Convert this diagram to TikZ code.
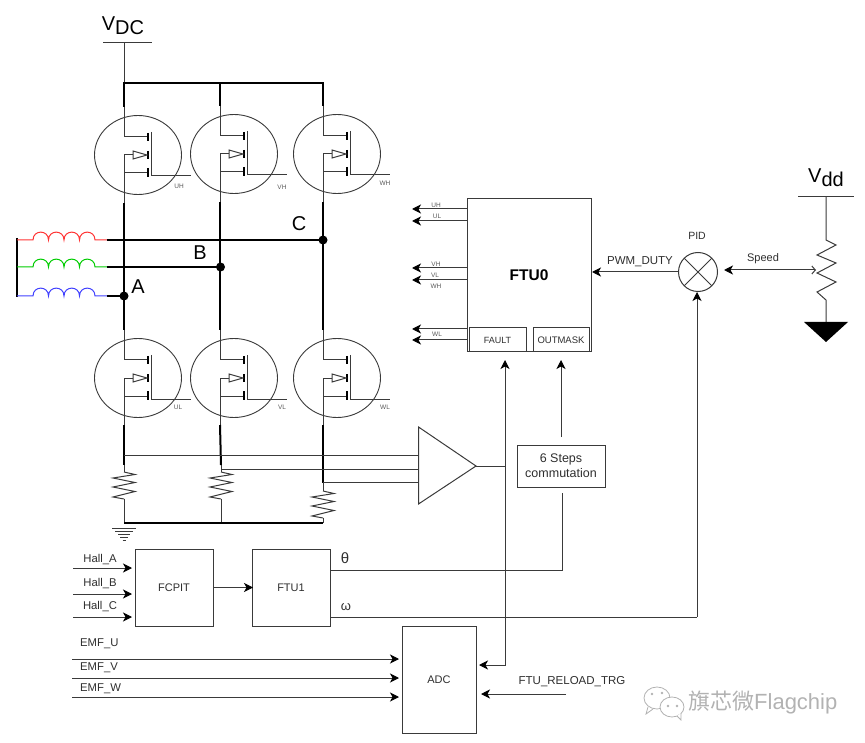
\documentclass[tikz,border=0pt]{standalone}
\usepackage{fontspec}
\setmainfont{Liberation Sans}
\newfontfamily\cjkwm{Noto Sans CJK SC}
\usetikzlibrary{arrows.meta,calc}
\definecolor{ink}{HTML}{2E2E2E}
\definecolor{wire}{HTML}{3A3A3A}
\tikzset{
  thin wire/.style={draw=wire,line width=1pt},
  power/.style={draw=black,line width=2pt},
  arr/.style={draw=wire,line width=1pt,-{Stealth[length=9pt,width=9pt,inset=2.5pt,color=black]}},
  box/.style={draw=wire,line width=1pt,rectangle,inner sep=0pt,outer sep=0pt,text=ink,font=\fontsize{11}{13}\selectfont,align=center},
  lbl/.style={text=ink,font=\fontsize{11.3}{13}\selectfont,inner sep=0pt},
  tiny/.style={text=ink!80,font=\fontsize{6.5}{8}\selectfont,inner sep=0pt},
  big/.style={text=black,font=\fontsize{20}{22}\selectfont,inner sep=0pt},
  dot/.style={circle,fill=black,draw=none,minimum size=9pt,inner sep=0pt,outer sep=0pt},
  coilw/.style={line width=1pt}
}
\newcommand{\mosfet}[6]{%
  \begin{scope}[shift={(#2,#3)}]
    \coordinate (#1d) at (0,-48);
    \coordinate (#1s) at (0,48);
    \draw[thin wire,line width=0.9pt] (14,0) ellipse (43.5 and 39.5);
    \draw[thin wire] (0,-48) -- (0,-18) -- (23,-18);
    \draw[draw=black,line width=1.5pt] (24,-22) -- (24,-14);
    \draw[draw=black,line width=1.5pt] (24,-4) -- (24,4);
    \draw[draw=black,line width=1.5pt] (24,13) -- (24,22);
    \draw[thin wire] (27,-23) -- (27,21) -- (67,21);
    \draw[thin wire] (0,48) -- (0,0) -- (9,0);
    \draw[thin wire] (0,18) -- (23,18);
    \draw[thin wire] (9,-4) -- (9,4) -- (23,0) -- cycle;
  \end{scope}
  \node[tiny] (#1l) at (#5,#6) {#4};
}
\newcommand{\shunt}[2]{%
  \draw[thin wire] (#1,#2) -- ++(11,2.5) -- ++(-22,3.5) -- ++(22,4.5) -- ++(-22,4.5) -- ++(22,4.5) -- ++(-22,5.5) -- ++(11,2);
}
\newcommand{\winding}[2]{%
  \draw[#2,coilw] (17,#1) -- (33,#1)
    .. controls (33,#1-10.5) and (48.5,#1-10.5) .. (48.5,#1)
    .. controls (48.5,#1-10.5) and (64,#1-10.5) .. (64,#1)
    .. controls (64,#1-10.5) and (79.5,#1-10.5) .. (79.5,#1)
    .. controls (79.5,#1-10.5) and (95,#1-10.5) .. (95,#1) -- (107,#1);
}
\begin{document}
\begin{tikzpicture}[x=1pt,y=-1pt]
\useasboundingbox (0,0) rectangle (865,743);
% supply
\coordinate (dcl) at (103,43); \coordinate (dcr) at (152,43); \coordinate (dcm) at (124,43);
\draw[thin wire] (dcl) -- (dcr);
\node[big] (vdc) at (123,26) {V\raisebox{-4pt}{DC}};
% bridge
\mosfet{uh}{124}{155}{UH}{179}{186}
\mosfet{vh}{220}{154}{VH}{282}{187}
\mosfet{wh}{323}{154}{WH}{385}{183}
\mosfet{ul}{124}{378}{UL}{178}{407}
\mosfet{vl}{220}{378}{VL}{282}{407}
\mosfet{wl}{323}{378}{WL}{385}{407}
\coordinate (bus1) at (124,83); \coordinate (bus2) at (220,83); \coordinate (bus3) at (323,83);
\draw[thin wire] (dcm) -- (bus1);
\draw[power,line cap=rect] (bus1) -- (bus3);
\draw[power] (bus1) -- (uhd);
\draw[power] (bus2) -- (vhd);
\draw[power] (bus3) -- (whd);
\coordinate (na) at (124,296);
\coordinate (nb) at (220.5,267);
\coordinate (nc) at (323,240);
\draw[power] (uhs) -- (uld);
\draw[power] (vhs) -- (vld);
\draw[power] (whs) -- (wld);
% windings
\draw[power] (17,238) -- (17,297);
\winding{240}{red!80!white}
\winding{267}{green!80!black}
\winding{296}{blue!75!white}
\coordinate (wa) at (107,296); \coordinate (wb) at (107,267); \coordinate (wc) at (107,240);
\draw[power] (wa) -- (na);
\draw[power] (wb) -- (nb);
\draw[power] (wc) -- (nc);
\node[dot] (da) at (na) {};
\node[dot] (db) at (nb) {};
\node[dot] (dc) at (nc) {};
\node[big] (la) at (138,287) {A};
\node[big,fill=white,inner sep=1pt] (lb) at (200,253) {B};
\node[big] (lc) at (299,224) {C};
% shunts
\coordinate (s1) at (124,465); \coordinate (s2) at (221,465); \coordinate (s3) at (323,483);
\draw[power] (uls) ++(0,-1) -- (s1);
\draw[power] (vls) ++(0,-1) -- (s2);
\draw[power] (wls) ++(0,-1) -- (s3);
\draw[thin wire] (s1) -- ++(0,7); \shunt{124}{472}
\draw[thin wire] (s2) -- ++(0,7); \shunt{221}{472}
\draw[thin wire] (s3) -- ++(0,8); \shunt{323}{491}
\coordinate (g1) at (124,523); \coordinate (g2) at (221,523); \coordinate (g3) at (323,523);
\draw[thin wire] (124,499) -- (g1);
\draw[thin wire] (221,499) -- (g2);
\draw[thin wire] (323,518) -- (g3);
\draw[power] (g1) -- (g3);
\foreach \yy/\ww in {528/12,531/9,534/6,537/4,540/1.5}
  \draw[thin wire] (124-\ww,\yy) -- (124+\ww,\yy);
% amplifier
\coordinate (a1) at (418.5,427); \coordinate (a2) at (418.5,504); \coordinate (ao) at (476,466);
\draw[thin wire] (a1) -- (a2) -- (ao) -- cycle;
\draw[thin wire] (124,455) -- (418.5,455);
\draw[thin wire] (221,469) -- (418.5,469);
\draw[thin wire] (323,482) -- (418.5,482);
% FTU0
\node[box,minimum width=124,minimum height=153,font=\fontsize{15.5}{18}\selectfont\bfseries,text=black] (ftu) at (529,275.5) {FTU0};
\node[box,minimum width=57,minimum height=24,font=\fontsize{9}{11}\selectfont] (fault) at (497.5,340) {FAULT};
\node[box,minimum width=56,minimum height=24,font=\fontsize{9.5}{11}\selectfont] (mask) at (561,340) {OUTMASK};
\foreach \yy/\nn in {209/a,221/b,268/c,280/d,329/e,340/f}{
  \coordinate (o\nn) at (412,\yy);
  \draw[arr] (ftu.west |- o\nn) -- (o\nn);
}
\node[tiny] (tuh) at (436,205) {UH};
\node[tiny] (tul) at (437,216) {UL};
\node[tiny] (tvh) at (436,264) {VH};
\node[tiny] (tvl) at (435,275) {VL};
\node[tiny] (twh) at (436,286) {WH};
\node[tiny] (twl) at (437,334) {WL};
% PID
\node[circle,draw=wire,line width=1pt,minimum size=39pt,inner sep=0pt,outer sep=0pt] (pid) at (698,272) {};
\draw[thin wire] (pid.45) -- (pid.225);
\draw[thin wire] (pid.135) -- (pid.315);
\node[lbl,font=\fontsize{10.5}{12}\selectfont] (tpid) at (697,236) {PID};
\draw[arr,shorten >=1pt] (pid.west) -- (ftu.east |- pid.west);
\node[lbl,font=\fontsize{11.5}{13}\selectfont] (tpwm) at (640,262) {PWM\_DUTY};
% Vdd
\coordinate (ddl) at (798,197); \coordinate (ddr) at (854,197); \coordinate (ddm) at (826,197);
\draw[thin wire] (ddl) -- (ddr);
\node[big] (vdd) at (826,178) {V\raisebox{-4pt}{dd}};
\coordinate (pt) at (826,240); \coordinate (pb) at (826,300); \coordinate (pg) at (826,322);
\coordinate (wiper) at (816,270);
\draw[thin wire] (ddm) -- (pt) -- ++(10,5) -- ++(-19,10) -- ++(19,8) -- ++(-19,10) -- ++(19,9) -- ++(-19,10) -- (pb) -- (pg);
\fill[black] (804,322) -- (848,322) -- (826,342) -- cycle;
\coordinate (sp) at (724,270);
\draw[thin wire,{Stealth[length=9pt,width=9pt,inset=2.5pt,color=black]}-{Straight Barb[length=3.5pt,width=8pt]}] (sp) -- (wiper);
\node[lbl,font=\fontsize{11}{13}\selectfont] (tsp) at (763,259) {Speed};
% lower blocks
\node[box,minimum width=78,minimum height=77] (fcpit) at (174,587.5) {FCPIT};
\node[box,minimum width=78,minimum height=77] (ftu1) at (291,587.5) {FTU1};
\node[box,minimum width=74,minimum height=107] (adc) at (439,680) {ADC};
\node[box,minimum width=88,minimum height=42,font=\fontsize{12.5}{15}\selectfont] (six) at (561,466) {6 Steps\\commutation};
\draw[arr,shorten <=1pt,shorten >=-1pt] (fcpit.east) -- (ftu1.west);
\foreach \yy/\nn/\lab/\ty in {568/A/Hall\_A/560,594/B/Hall\_B/584,617/C/Hall\_C/607}{
  \coordinate (h\nn) at (73,\yy);
  \draw[arr,shorten >=3pt] (h\nn) -- (fcpit.west |- h\nn);
  \node[lbl] (th\nn) at (100,\ty) {\lab};
}
\foreach \yy/\nn/\lab/\ty in {659/U/EMF\_U/644,678/V/EMF\_V/668,697/W/EMF\_W/689}{
  \coordinate (e\nn) at (72,\yy);
  \draw[arr,shorten >=3pt] (e\nn) -- (adc.west |- e\nn);
  \node[lbl,anchor=west] (te\nn) at (80,\ty) {\lab};
}
% feedback wires
\coordinate (th) at (562,570);
\coordinate (sb) at (562,493);
\draw[thin wire] (ftu1.east |- th) -- (th) -- (sb);
\node[lbl,font=\fontsize{15}{17}\selectfont] (tth) at (345,558) {θ};
\coordinate (om) at (697,617);
\draw[thin wire] (ftu1.east |- om) -- (om);
\draw[arr] (om) -- (697,292);
\node[lbl,font=\fontsize{13}{15}\selectfont] (tom) at (346,607) {ω};
\coordinate (st) at (561,437);
\draw[arr] (st) -- (561,360);
\coordinate (fb) at (505,665);
\draw[arr] (505,466) -- (505,360);
\draw[thin wire] (ao) -- (505,466);
\draw[arr] (505,466) -- (fb) -- (479,665);
\coordinate (rl) at (566,694);
\draw[arr] (rl) -- (481,694);
\node[lbl,font=\fontsize{11.5}{13}\selectfont] (trl) at (572,682) {FTU\_RELOAD\_TRG};
% watermark
\begin{scope}[draw=gray!60,line width=0.8pt]
  \draw (657,698) ellipse (13 and 11);
  \draw[fill=white] (672,707) ellipse (12 and 10);
  \draw (648,707) -- (646,714) -- (653,709);
  \draw[fill=white] (677,716) -- (681,720) -- (681,713);
  \fill[gray!60] (652,694) circle (1.3) (662,693) circle (1.3) (668,706) circle (1.3) (677,706) circle (1.3);
\end{scope}
\node[anchor=west,inner sep=0pt,text=gray!60,font=\fontsize{22}{24}\selectfont] (wm) at (688,703) {{\cjkwm 旗芯微}Flagchip};
\end{tikzpicture}
\end{document}
